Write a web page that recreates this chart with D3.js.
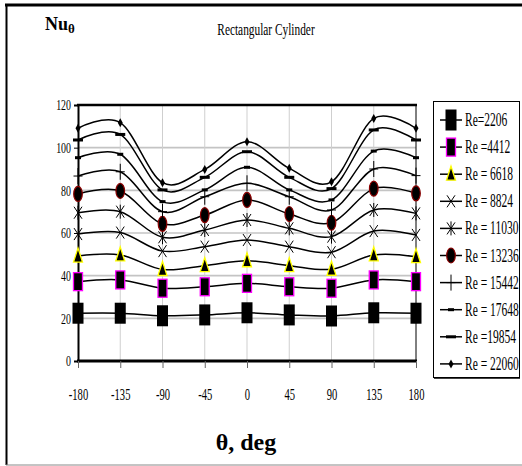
<!DOCTYPE html>
<html>
<head>
<meta charset="utf-8">
<script src="https://cdn.jsdelivr.net/npm/d3@7"></script>
<style>
  body { margin: 0; background: #fff; }
  text { font-family: "Liberation Serif", "Times New Roman", serif; fill: #000; }
</style>
</head>
<body>
<script>
// data
var angles = [-180, -135, -90, -45, 0, 45, 90, 135, 180];
var yTicks = [0, 20, 40, 60, 80, 100, 120];

var re2206  = [22.4, 22.4, 21.2, 21.6, 22.6, 21.6, 21.1, 22.6, 22.4];
var re4412  = [37.2, 38.0, 34.1, 34.8, 36.4, 34.8, 34.1, 38.0, 37.2];
var re6618  = [49.2, 49.7, 42.9, 44.7, 47.0, 44.7, 43.0, 49.7, 48.9];
var re8824  = [59.5, 60.2, 51.5, 53.6, 56.7, 53.6, 51.0, 60.9, 59.1];
var re11030 = [69.5, 70.0, 58.0, 61.4, 66.1, 62.2, 58.3, 70.8, 69.2];
var re13236 = [78.3, 79.7, 64.3, 68.4, 75.5, 68.9, 64.8, 80.8, 78.6];
var re15442 = [86.7, 88.7, 70.0, 77.0, 83.3, 77.0, 70.8, 90.0, 86.9];
var re17648 = [95.3, 96.9, 74.7, 80.2, 90.8, 80.2, 75.5, 98.4, 95.3];
var re19854 = [103.6, 106.2, 80.2, 86.1, 98.1, 86.1, 80.8, 108.3, 103.6];
var re22060 = [109.1, 111.7, 83.6, 89.8, 102.8, 90.3, 84.0, 113.7, 109.1];

var seriesNames = ["Re=2206", "Re =4412", "Re = 6618", "Re = 8824", "Re = 11030",
                   "Re = 13236", "Re = 15442", "Re = 17648", "Re =19854", "Re = 22060"];
var seriesValues = [re2206, re4412, re6618, re8824, re11030,
                    re13236, re15442, re17648, re19854, re22060];
var markerTypes = ["square", "pinkSquare", "triangle", "x", "star",
                   "circle", "plus", "dashS", "dashL", "diamond"];

function init(){
    var w = 522, h = 466;
    var svg = d3.select("body").append("svg")
        .attr("width", w).attr("height", h);

    // chart frame
    svg.append("line").attr("x1", 5).attr("x2", w).attr("y1", 5).attr("y2", 5)
        .attr("stroke", "#000").attr("stroke-width", 3);
    svg.append("line").attr("x1", 6.5).attr("x2", 6.5).attr("y1", 4).attr("y2", 465)
        .attr("stroke", "#000").attr("stroke-width", 2);
    svg.append("line").attr("x1", 6).attr("x2", w).attr("y1", 465).attr("y2", 465)
        .attr("stroke", "#888").attr("stroke-width", 1);

    var x = d3.scaleLinear().domain([-180, 180]).range([78, 416]);
    var y = d3.scaleLinear().domain([0, 120]).range([361, 105]);

    // grid
    var grid = svg.append("g");
    grid.selectAll(".hg").data(yTicks.slice(1, -1)).enter().append("line")
        .attr("x1", x(-180)).attr("x2", x(180))
        .attr("y1", function(d){ return y(d); }).attr("y2", function(d){ return y(d); })
        .attr("stroke", "#c4c4c4").attr("stroke-width", 1.6);
    grid.selectAll(".vg").data(angles.slice(1, -1)).enter().append("line")
        .attr("x1", function(d){ return x(d); }).attr("x2", function(d){ return x(d); })
        .attr("y1", y(120)).attr("y2", y(0))
        .attr("stroke", "#cfcfcf").attr("stroke-width", 1);

    // plot borders
    svg.append("line").attr("x1", x(180)).attr("x2", x(180)).attr("y1", y(120)).attr("y2", y(0))
        .attr("stroke", "#000").attr("stroke-width", 1);
    svg.append("line").attr("x1", x(-180) - 1).attr("x2", x(180) + 1).attr("y1", y(120)).attr("y2", y(120))
        .attr("stroke", "#000").attr("stroke-width", 2.5);

    // axes
    var yAxis = svg.append("g").attr("transform", "translate(" + x(-180) + ",0)")
        .call(d3.axisLeft(y).tickValues(yTicks).tickSize(4).tickPadding(0));
    yAxis.select(".domain").attr("stroke-width", 2);
    yAxis.selectAll("text")
        .attr("x", 0)
        .attr("transform", "translate(-7,0) scale(0.66,1)")
        .style("font-size", "15px")
        .style("font-family", "'Liberation Serif', serif");

    var xAxis = svg.append("g").attr("transform", "translate(0," + y(0) + ")")
        .call(d3.axisBottom(x).tickValues(angles).tickSize(7).tickFormat(d3.format("d")));
    xAxis.select(".domain").attr("stroke-width", 3).attr("d", "M" + (x(-180) - 1) + ",0H" + (x(180) + 1));
    xAxis.selectAll(".tick line").attr("stroke", "#666");
    xAxis.selectAll("text")
        .attr("y", 0).attr("dy", 0)
        .attr("transform", "translate(0,39) scale(0.66,1)")
        .style("font-size", "16px")
        .style("font-family", "'Liberation Serif', serif")
        .text(function(d){ return d; });

    // series
    var line = d3.line()
        .x(function(d, i){ return x(angles[i]); })
        .y(function(d){ return y(d); })
        .curve(d3.curveCardinal.tension(0));

    seriesValues.forEach(function(vals, k){
        svg.append("path").datum(vals)
            .attr("d", line)
            .attr("fill", "none")
            .attr("stroke", "#000")
            .attr("stroke-width", 1.5);
        vals.forEach(function(v, i){
            drawMarker(svg, markerTypes[k], x(angles[i]), y(v));
        });
    });

    // titles
    svg.append("text").attr("transform", "translate(266,35) scale(0.71,1)")
        .attr("text-anchor", "middle").style("font-size", "16px")
        .text("Rectangular Cylinder");
    var nu = svg.append("text").attr("x", 45).attr("y", 30)
        .style("font-size", "18px").style("font-weight", "bold");
    nu.append("tspan").text("Nu");
    nu.append("tspan").attr("dy", 3).style("font-size", "13px").text("θ");
    svg.append("text").attr("x", 246).attr("y", 450)
        .attr("text-anchor", "middle").style("font-size", "24px").style("font-weight", "bold")
        .text("θ, deg");

    // legend
    var lg = svg.append("g");
    lg.append("rect").attr("x", 433.5).attr("y", 101.5).attr("width", 86).attr("height", 276)
        .attr("fill", "#fff").attr("stroke", "#000").attr("stroke-width", 1);
    lg.append("line").attr("x1", 434).attr("x2", 520).attr("y1", 378).attr("y2", 378)
        .attr("stroke", "#000").attr("stroke-width", 1.5);
    seriesNames.forEach(function(name, k){
        var ly = 120 + k * 27.1;
        lg.append("line").attr("x1", 440).attr("x2", 462).attr("y1", ly).attr("y2", ly)
            .attr("stroke", "#000").attr("stroke-width", 1.5);
        drawMarker(lg, markerTypes[k], 451, ly);
        lg.append("text").attr("transform", "translate(465," + (ly + 6) + ") scale(0.64,1)")
            .style("font-size", "18px").text(name);
    });
}

function drawMarker(g, type, cx, cy){
    if (type === "square") {
        g.append("rect").attr("x", cx - 5.5).attr("y", cy - 10.5).attr("width", 11).attr("height", 21)
            .attr("fill", "#000");
    } else if (type === "pinkSquare") {
        g.append("rect").attr("x", cx - 4.5).attr("y", cy - 9).attr("width", 9).attr("height", 18)
            .attr("fill", "#000").attr("stroke", "#ff00ff").attr("stroke-width", 1.3);
    } else if (type === "triangle") {
        g.append("path").attr("d", "M" + cx + "," + (cy - 8) + "L" + (cx + 4.5) + "," + (cy + 6) + "L" + (cx - 4.5) + "," + (cy + 6) + "Z")
            .attr("fill", "#000").attr("stroke", "#ffff00").attr("stroke-width", 1.3);
    } else if (type === "x" || type === "star") {
        var p = "M" + (cx - 4) + "," + (cy - 6) + "L" + (cx + 4) + "," + (cy + 6) +
                "M" + (cx + 4) + "," + (cy - 6) + "L" + (cx - 4) + "," + (cy + 6);
        if (type === "star") p += "M" + cx + "," + (cy - 7) + "L" + cx + "," + (cy + 7);
        g.append("path").attr("d", p).attr("stroke", "#000").attr("stroke-width", 1).attr("fill", "none");
    } else if (type === "circle") {
        g.append("ellipse").attr("cx", cx).attr("cy", cy).attr("rx", 4.3).attr("ry", 7.5)
            .attr("fill", "#000").attr("stroke", "#8b0000").attr("stroke-width", 1.2);
    } else if (type === "plus") {
        g.append("path").attr("d", "M" + (cx - 4.5) + "," + cy + "H" + (cx + 4.5) + "M" + cx + "," + (cy - 8) + "V" + (cy + 8))
            .attr("stroke", "#000").attr("stroke-width", 1).attr("fill", "none");
    } else if (type === "dashS") {
        g.append("rect").attr("x", cx - 3).attr("y", cy - 1.5).attr("width", 6).attr("height", 3).attr("fill", "#000");
    } else if (type === "dashL") {
        g.append("rect").attr("x", cx - 5).attr("y", cy - 1.5).attr("width", 10).attr("height", 3).attr("fill", "#000");
    } else if (type === "diamond") {
        g.append("path").attr("d", "M" + cx + "," + (cy - 4.5) + "L" + (cx + 2.5) + "," + cy + "L" + cx + "," + (cy + 4.5) + "L" + (cx - 2.5) + "," + cy + "Z")
            .attr("fill", "#000");
    }
}

window.onload = init;
</script>
</body>
</html>
